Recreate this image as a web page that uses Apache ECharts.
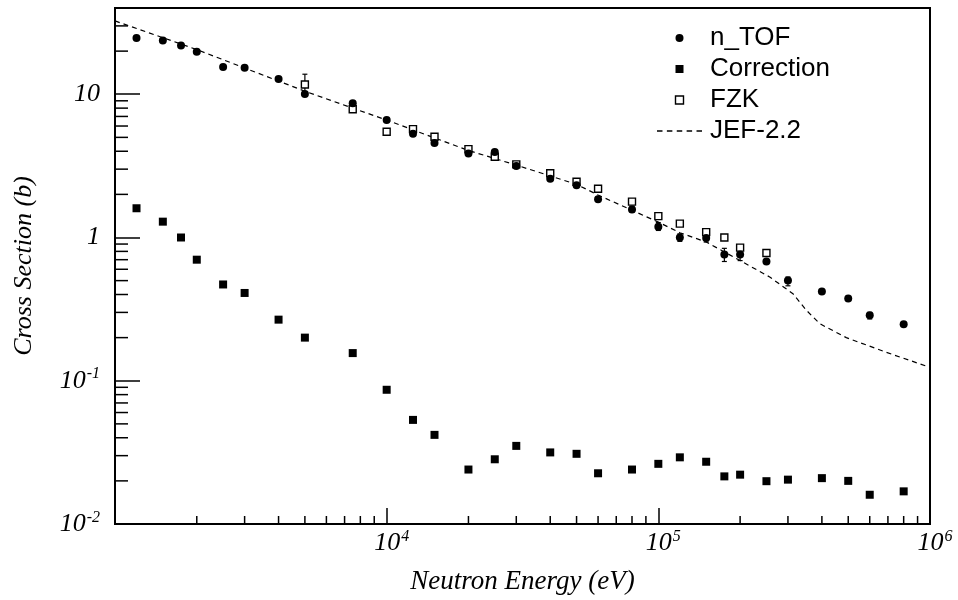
<!DOCTYPE html>
<html><head><meta charset="utf-8">
<script src="https://cdn.jsdelivr.net/npm/echarts@6/dist/echarts.min.js"></script>
<style>html,body{margin:0;padding:0;background:#fff}#c{width:958px;height:600px}</style>
</head><body><div id="c"></div>
<script>
// ---- data ----
const energies = [1200, 1500, 1750, 2000, 2500, 3000, 4000, 5000, 7500, 10000,
  12500, 15000, 20000, 25000, 30000, 40000, 50000, 60000, 80000, 100000,
  120000, 150000, 175000, 200000, 250000, 300000, 400000, 500000, 600000, 800000];
const ntofValues = [24.7, 23.7, 21.9, 19.8, 15.5, 15.3, 12.8, 10.05, 8.65, 6.6,
  5.3, 4.56, 3.86, 3.95, 3.16, 2.57, 2.32, 1.85, 1.57, 1.19,
  1.0, 0.99, 0.76, 0.76, 0.68, 0.50, 0.42, 0.375, 0.286, 0.248];
const correctionValues = [1.60, 1.29, 1.0, 0.70, 0.47, 0.41, 0.267, 0.20, 0.156, 0.0865,
  0.0533, 0.0419, 0.024, 0.0283, 0.0351, 0.0316, 0.0309, 0.0226, 0.024, 0.0263,
  0.0292, 0.0272, 0.0215, 0.0221, 0.0199, 0.0204, 0.0209, 0.0200, 0.0160, 0.0169];
const fzkEnergies = [5000, 7500, 10000, 12500, 15000, 20000, 25000, 30000, 40000, 50000,
  60000, 80000, 100000, 120000, 150000, 175000, 200000, 250000];
const fzkValues = [11.7, 7.85, 5.47, 5.71, 5.05, 4.14, 3.66, 3.24, 2.81, 2.45,
  2.19, 1.78, 1.41, 1.25, 1.09, 1.0, 0.85, 0.78];
const jefEnergies = [1000, 2000, 5000, 10000, 20000, 30000, 50000, 60000, 100000, 120000,
  150000, 200000, 257000, 313000, 351000, 393000, 492000, 690000, 1000000];
const jefValues = [32.5, 20.5, 10.5, 6.6, 4.05, 3.2, 2.35, 1.98, 1.28, 1.08,
  0.93, 0.69, 0.53, 0.405, 0.31, 0.25, 0.20, 0.158, 0.124];
// error bars
const errEnergies = [5000, 80000, 100000, 120000, 150000, 175000, 200000, 300000, 600000];
const errLow =      [10.2, 1.50, 1.12, 0.94, 0.93, 0.68, 0.69, 0.46, 0.27];
const errHigh =     [13.8, 1.65, 1.27, 1.06, 1.07, 0.84, 0.83, 0.53, 0.30];
// axes
const xMin = 1000, xMax = 1000000, yMin = 0.01, yMax = 40;
const xLabelExponents = [4, 5, 6];
const yLabelExponents = [-2, -1, 0, 1];
const xMinorTicks = [2000,3000,4000,5000,6000,7000,8000,9000,
  20000,30000,40000,50000,60000,70000,80000,90000,
  200000,300000,400000,500000,600000,700000,800000,900000];
const yMinorTicks = [0.02,0.03,0.04,0.05,0.06,0.07,0.08,0.09,
  0.2,0.3,0.4,0.5,0.6,0.7,0.8,0.9, 2,3,4,5,6,7,8,9, 20,30];

const serif = 'Liberation Serif';
const sans = 'Liberation Sans';
function expOf(v) {
  const l = Math.log10(v), e = Math.round(l);
  return Math.abs(l - e) < 1e-6 ? e : null;
}
const squareIcon = 'path://M0,0L10,0L10,10L0,10Z';
const dashIcon = 'path://M0,0L5,0L5,1.3L0,1.3Z M9,0L14,0L14,1.3L9,1.3Z M18,0L23,0L23,1.3L18,1.3Z M27,0L32,0L32,1.3L27,1.3Z M36,0L41,0L41,1.3L36,1.3Z';

const chart = echarts.init(document.getElementById('c'), null, {renderer: 'canvas'});
chart.setOption({
  animation: false,
  backgroundColor: '#fff',
  grid: {left: 115, right: 28, top: 8, bottom: 76, show: true, borderColor: '#000', borderWidth: 2, backgroundColor: 'transparent'},
  legend: {
    orient: 'vertical', left: 652, top: 20, itemWidth: 45, itemHeight: 8, itemGap: 5,
    symbolKeepAspect: true,
    textStyle: {fontFamily: sans, fontSize: 26, color: '#000', lineHeight: 26, padding: [0, 0, 0, 3]},
    data: [
      {name: 'n_TOF', icon: 'circle', itemStyle: {color: '#000', opacity: 1}},
      {name: 'Correction', icon: squareIcon, itemStyle: {color: '#000', opacity: 1}},
      {name: 'FZK', icon: squareIcon, itemStyle: {color: '#fff', borderColor: '#000', borderWidth: 1.4, opacity: 1}},
      {name: 'JEF-2.2', icon: dashIcon, itemStyle: {color: '#000', opacity: 1}}
    ]
  },
  xAxis: {
    type: 'log', logBase: 10, min: xMin, max: xMax,
    name: 'Neutron Energy (eV)', nameLocation: 'middle', nameGap: 44,
    nameTextStyle: {fontFamily: serif, fontStyle: 'italic', fontSize: 27, color: '#000'},
    axisLine: {show: false},
    axisTick: {inside: true, length: 16, lineStyle: {color: '#000', width: 1.5}},
    splitLine: {show: false},
    axisLabel: {
      margin: 5, color: '#000',
      formatter: v => { const e = expOf(v); return (e !== null && xLabelExponents.includes(e)) ? '{b|10}{s|' + e + '}' : ''; },
      rich: {
        b: {fontFamily: serif, fontStyle: 'italic', fontSize: 26, color: '#000', padding: [0, 0, 0, 10]},
        s: {fontFamily: serif, fontStyle: 'italic', fontSize: 16, color: '#000', padding: [0, 0, 13, 1]}
      }
    }
  },
  yAxis: {
    type: 'log', logBase: 10, min: yMin, max: yMax,
    name: 'Cross Section (b)', nameLocation: 'middle', nameGap: 78,
    nameTextStyle: {fontFamily: serif, fontStyle: 'italic', fontSize: 26, color: '#000'},
    axisLine: {show: false},
    axisTick: {inside: true, length: 25, lineStyle: {color: '#000', width: 1.5}},
    splitLine: {show: false},
    axisLabel: {
      margin: 15, color: '#000',
      formatter: v => {
        const e = expOf(v);
        if (e === null || !yLabelExponents.includes(e)) return '';
        if (e === 0) return '{b|1}';
        if (e === 1) return '{b|10}';
        return '{b|10}{s|' + e + '}';
      },
      rich: {
        b: {fontFamily: serif, fontStyle: 'italic', fontSize: 26, color: '#000'},
        s: {fontFamily: serif, fontStyle: 'italic', fontSize: 16, color: '#000', padding: [0, 0, 13, 1]}
      }
    }
  },
  series: [
    {
      name: 'minorX', type: 'custom', silent: true, z: 1,
      data: xMinorTicks.map(v => [v, yMin]),
      renderItem: (params, api) => {
        const p = api.coord([api.value(0), api.value(1)]);
        return {type: 'line', shape: {x1: p[0], y1: p[1], x2: p[0], y2: p[1] - 8}, style: {stroke: '#000', lineWidth: 1.5}};
      }
    },
    {
      name: 'minorY', type: 'custom', silent: true, z: 1,
      data: yMinorTicks.map(v => [xMin, v]),
      renderItem: (params, api) => {
        const p = api.coord([api.value(0), api.value(1)]);
        return {type: 'line', shape: {x1: p[0], y1: p[1], x2: p[0] + 13, y2: p[1]}, style: {stroke: '#000', lineWidth: 1.5}};
      }
    },
    {
      name: 'JEF-2.2', type: 'line', symbol: 'none', showSymbol: false, z: 2,
      data: jefEnergies.map((e, i) => [e, jefValues[i]]),
      lineStyle: {color: '#000', width: 1.2, type: [5, 4]},
      itemStyle: {color: '#000'}
    },
    {
      name: 'errors', type: 'custom', silent: true, z: 3,
      data: errEnergies.map((e, i) => [e, errLow[i], errHigh[i]]),
      encode: {x: 0, y: [1, 2]},
      renderItem: (params, api) => {
        const lo = api.coord([api.value(0), api.value(1)]);
        const hi = api.coord([api.value(0), api.value(2)]);
        const st = {stroke: '#000', lineWidth: 1.2};
        return {type: 'group', children: [
          {type: 'line', shape: {x1: lo[0], y1: lo[1], x2: hi[0], y2: hi[1]}, style: st},
          {type: 'line', shape: {x1: lo[0] - 2.5, y1: lo[1], x2: lo[0] + 2.5, y2: lo[1]}, style: st},
          {type: 'line', shape: {x1: hi[0] - 2.5, y1: hi[1], x2: hi[0] + 2.5, y2: hi[1]}, style: st}
        ]};
      }
    },
    {
      name: 'Correction', type: 'scatter', symbol: 'rect', symbolSize: 8, z: 4,
      data: energies.map((e, i) => [e, correctionValues[i]]),
      itemStyle: {color: '#000', opacity: 1}
    },
    {
      name: 'FZK', type: 'scatter', symbol: 'rect', symbolSize: 7, z: 4,
      data: fzkEnergies.map((e, i) => [e, fzkValues[i]]),
      itemStyle: {color: '#fff', borderColor: '#000', borderWidth: 1.4, opacity: 1}
    },
    {
      name: 'n_TOF', type: 'scatter', symbol: 'circle', symbolSize: 8, z: 5,
      data: energies.map((e, i) => [e, ntofValues[i]]),
      itemStyle: {color: '#000', opacity: 1}
    }
  ]
});
</script></body></html>
